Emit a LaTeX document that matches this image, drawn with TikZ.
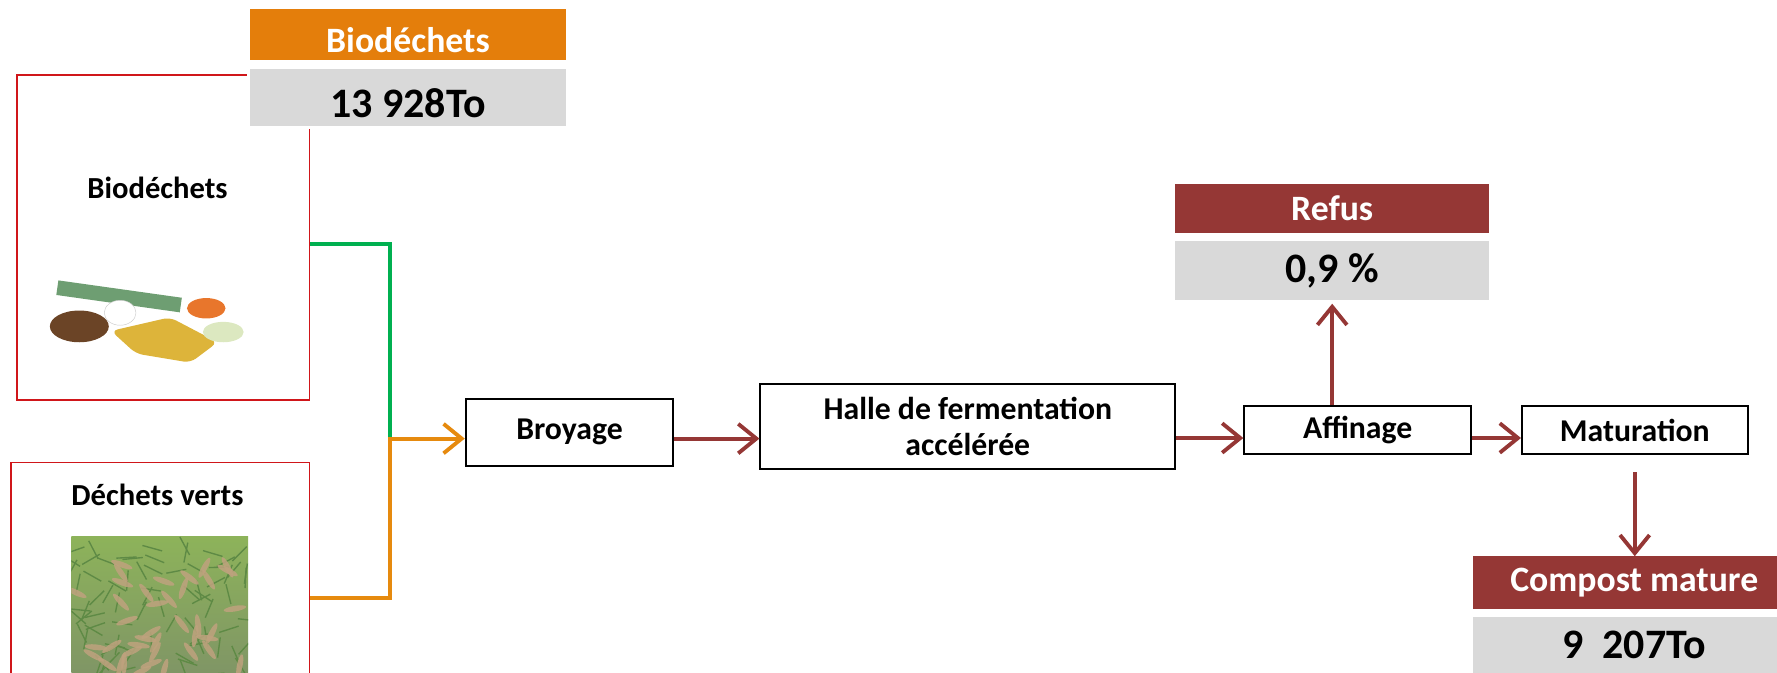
\documentclass[tikz,border=0pt]{standalone}
\usepackage{fontspec}
\setmainfont{Carlito}
\usetikzlibrary{arrows.meta}
\definecolor{orangehd}{HTML}{E47E0B}
\definecolor{brick}{HTML}{953735}
\definecolor{greyval}{HTML}{D9D9D9}
\definecolor{boxred}{HTML}{D0161A}
\definecolor{lgreen}{HTML}{00B050}
\definecolor{lorange}{HTML}{E68A0E}
\definecolor{soil}{HTML}{6B4426}
\definecolor{leek}{HTML}{6E9E72}
\definecolor{banana}{HTML}{DDB43A}
\definecolor{carrot}{HTML}{E8762C}
\definecolor{leekw}{HTML}{DCE8C0}
\definecolor{grassg}{HTML}{7F9466}
\definecolor{grasstop}{HTML}{8DB35A}
\definecolor{leaf}{HTML}{BFA27E}
\definecolor{blade}{HTML}{5E8A45}

\begin{document}
\begin{tikzpicture}[x=1pt,y=-1pt,
  etape/.style={draw=black,line width=1.8pt,inner sep=0pt,align=center,font=\fontsize{28}{32}\selectfont\bfseries},
  source/.style={draw=boxred,line width=1.5pt,inner sep=0pt},
  lbl/.style={font=\fontsize{27}{30}\selectfont\bfseries},
  entete/.style={fill=#1,text=white,inner sep=0pt,font=\fontsize{31.5}{33}\selectfont\bfseries},
  valeur/.style={fill=greyval,draw=white,line width=3pt,inner sep=0pt,font=\fontsize{37}{40}\selectfont\bfseries},
  fleche/.style={line width=3.4pt,-{Straight Barb[length=16pt,width=26pt,line width=3.4pt]}}]
\useasboundingbox (0,0) rectangle (1568,593);

\node[source,minimum width=258pt,minimum height=287pt] (bio) at (144,209.5) {};
\node[source,minimum width=263pt,minimum height=240pt] (verts) at (141.5,528) {};
\node[lbl] (biolbl) at (139,166) {Biodéchets};
\node[lbl] (vertslbl) at (139,437) {Déchets verts};

\fill[leek,rotate around={-8:(105,262)}] (50,255) rectangle (160,268);
\fill[soil] (70,288) ellipse (26pt and 14pt);
\fill[white,draw=gray!40] (106,276) ellipse (14pt and 11pt);
\fill[banana,rounded corners=6pt] (98,292) -- (150,280) -- (192,302) -- (168,320) -- (120,312) -- cycle;
\fill[carrot] (182,272) ellipse (17pt and 9pt);
\fill[leekw] (197,293) ellipse (18pt and 9pt);

\begin{scope}
\clip (63,473) rectangle (219,600);
\shade[top color=grasstop,bottom color=grassg] (63,473) rectangle (219,600);
\pgfmathsetseed{7}
\foreach \i in {1,...,80}{
  \pgfmathsetmacro{\gx}{63+156*rnd}\pgfmathsetmacro{\gy}{480+115*rnd}\pgfmathsetmacro{\ga}{180*rnd}
  \draw[blade,line width=1.2pt,rotate around={\ga:(\gx,\gy)}] (\gx-9,\gy) -- (\gx+9,\gy);}
\foreach \i in {1,...,40}{
  \pgfmathsetmacro{\gx}{66+150*rnd}\pgfmathsetmacro{\gy}{495+100*rnd}\pgfmathsetmacro{\ga}{180*rnd}
  \fill[leaf,opacity=.85,rotate around={\ga:(\gx,\gy)}] (\gx,\gy) ellipse (10pt and 2.5pt);}
\end{scope}

\node[entete=orangehd,minimum width=278pt,minimum height=45pt,text height=32pt,text depth=0pt] (bioent) at (360,30.5) {Biodéchets};
\node[valeur,minimum width=281pt,minimum height=53pt,text height=35pt,text depth=0pt] (bioval) at (360,86) {13~928To};

\node[etape,minimum width=183pt,minimum height=59pt] (broy) at (502.5,381.5) {Broyage};
\node[etape,minimum width=366pt,minimum height=75pt] (halle) at (854,376.5) {Halle de fermentation\\accélérée};
\node[etape,minimum width=200pt,minimum height=43pt] (aff) at (1198,379.5) {Affinage};
\node[etape,minimum width=199pt,minimum height=43pt] (mat) at (1442.5,379.5) {Maturation};

\node[entete=brick,minimum width=277pt,minimum height=44pt] (refent) at (1175.5,184) {Refus};
\node[valeur,minimum width=280pt,minimum height=55pt] (refval) at (1175.5,239) {0,9~\%};
\node[entete=brick,minimum width=284pt,minimum height=46pt] (compent) at (1442,514) {Compost mature};
\node[valeur,minimum width=287pt,minimum height=53pt] (compval) at (1442,569) {9~~207To};

\coordinate (j) at (344,387);
\draw[lgreen,line width=3.4pt] ([yshift=-5.5pt]bio.east) -| (j);
\draw[fleche,lorange] (verts.east) -| (j) -- ([yshift=-5.5pt]broy.west);
\draw[fleche,brick] ([yshift=-5.5pt]broy.east) -- ([yshift=-5.5pt]broy.east -| halle.west);
\draw[fleche,brick] ([yshift=-7pt]halle.east |- aff.west) -- ([yshift=-7pt]aff.west);
\draw[fleche,brick] ([yshift=-7pt]aff.east) -- ([yshift=-7pt]aff.east -| mat.west);
\draw[fleche,brick] (aff.north -| refval.south) -- (refval.south);
\draw[fleche,brick] ([yshift=-15pt]mat.south) -- (mat.south |- compent.north);
\end{tikzpicture}
\end{document}
